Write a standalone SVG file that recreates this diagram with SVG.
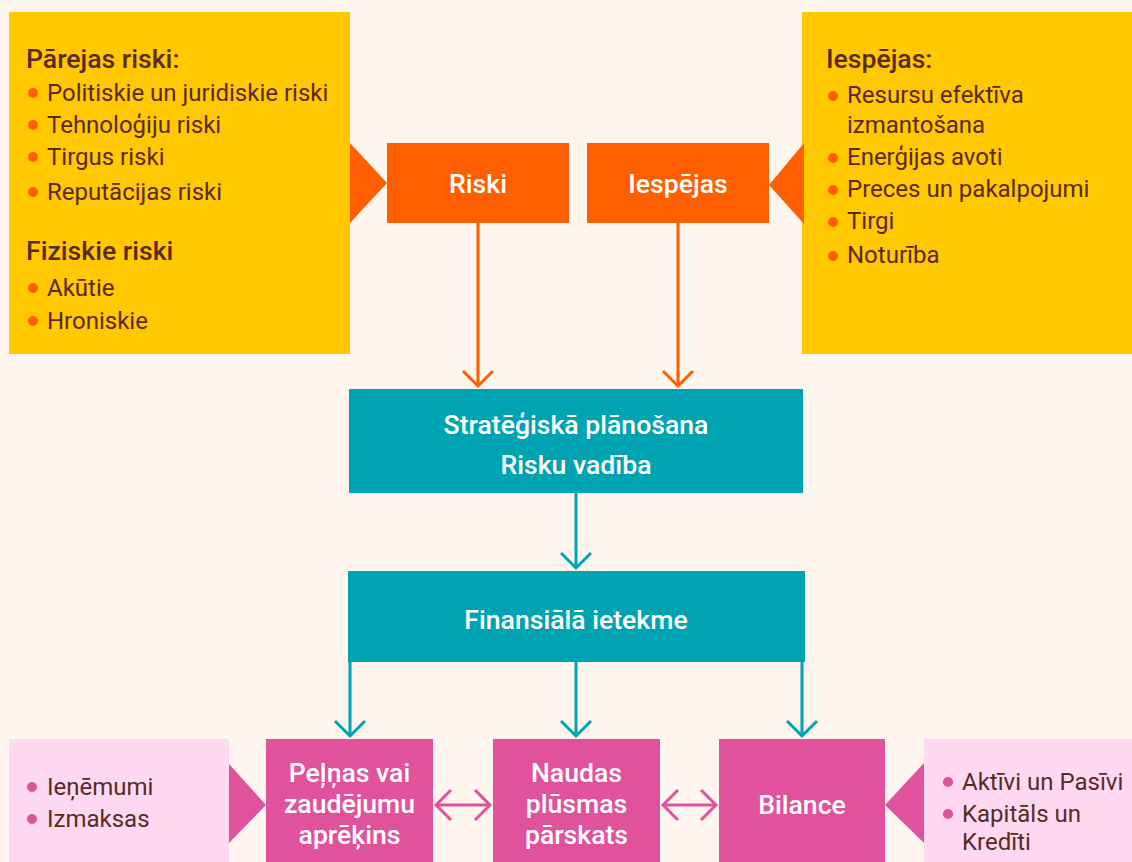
<svg xmlns="http://www.w3.org/2000/svg" width="1132" height="862" viewBox="0 0 1132 862">
<style>
.t{font-family:Roboto,"Liberation Sans",sans-serif;font-size:24px;fill:#5B2A1F}
.h{font-family:Roboto,"Liberation Sans",sans-serif;font-size:26.6px;font-weight:500;fill:#5B2A1F}
.w{font-family:Roboto,"Liberation Sans",sans-serif;font-size:26.6px;font-weight:500;fill:#FFFFFF;text-anchor:middle}
.ob{fill:#FF5F00}
.pb{fill:#E0529C}
.lo{stroke:#FF5F00;stroke-width:3;fill:none}
.lt{stroke:#00A3B1;stroke-width:3;fill:none}
.lp{stroke:#E0529C;stroke-width:3;fill:none}
</style>
<defs>
<marker id="ao" viewBox="-20 -20 40 40" refX="0" refY="0" markerWidth="40" markerHeight="40" markerUnits="userSpaceOnUse" orient="auto"><path d="M-15,-15 L0,0 L-15,15" fill="none" stroke="#FF5F00" stroke-width="3"/></marker>
<marker id="at" viewBox="-20 -20 40 40" refX="0" refY="0" markerWidth="40" markerHeight="40" markerUnits="userSpaceOnUse" orient="auto"><path d="M-15,-15 L0,0 L-15,15" fill="none" stroke="#00A3B1" stroke-width="3"/></marker>
<marker id="ap" viewBox="-20 -20 40 40" refX="0" refY="0" markerWidth="40" markerHeight="40" markerUnits="userSpaceOnUse" orient="auto-start-reverse"><path d="M-15,-15 L0,0 L-15,15" fill="none" stroke="#E0529C" stroke-width="3"/></marker>
</defs>
<rect width="1132" height="862" fill="#FEF6EE"/>

<g id="transition-risks">
<rect x="9" y="12" width="341" height="342" fill="#FFC800"/>
<polygon points="350,143 387,183 350,223" fill="#FF5F00"/>
<text class="h" x="26" y="68">Pārejas riski:</text>
<circle class="ob" cx="33" cy="93" r="5"/><text class="t" x="47" y="101">Politiskie un juridiskie riski</text>
<circle class="ob" cx="33" cy="125" r="5"/><text class="t" x="47" y="133">Tehnoloģiju riski</text>
<circle class="ob" cx="33" cy="157" r="5"/><text class="t" x="47" y="165">Tirgus riski</text>
<circle class="ob" cx="33" cy="192" r="5"/><text class="t" x="47" y="200">Reputācijas riski</text>
<text class="h" x="26" y="260">Fiziskie riski</text>
<circle class="ob" cx="33" cy="288" r="5"/><text class="t" x="47" y="296">Akūtie</text>
<circle class="ob" cx="33" cy="321" r="5"/><text class="t" x="47" y="329">Hroniskie</text>
</g>

<g id="opportunities-list">
<rect x="802" y="12" width="330" height="342" fill="#FFC800"/>
<polygon points="804,143 769,185 804,224" fill="#FF5F00"/>
<text class="h" x="826" y="68">Iespējas:</text>
<circle class="ob" cx="833" cy="96" r="5"/><text class="t" x="847" y="103">Resursu efektīva</text>
<text class="t" x="847" y="133">izmantošana</text>
<circle class="ob" cx="833" cy="158" r="5"/><text class="t" x="847" y="165">Enerģijas avoti</text>
<circle class="ob" cx="833" cy="190" r="5"/><text class="t" x="847" y="197">Preces un pakalpojumi</text>
<circle class="ob" cx="833" cy="222" r="5"/><text class="t" x="847" y="229">Tirgi</text>
<circle class="ob" cx="833" cy="256" r="5"/><text class="t" x="847" y="263">Noturība</text>
</g>

<g id="riski">
<rect x="387" y="143" width="182" height="80" fill="#FF5F00"/>
<text class="w" x="478" y="193">Riski</text>
</g>

<g id="iespejas">
<rect x="587" y="143" width="182" height="80" fill="#FF5F00"/>
<text class="w" x="678" y="193">Iespējas</text>
</g>

<g id="strategic">
<rect x="349" y="389" width="454" height="104" fill="#00A3B1"/>
<text class="w" x="576" y="434">Stratēģiskā plānošana</text>
<text class="w" x="576" y="474">Risku vadība</text>
</g>

<g id="financial">
<rect x="348" y="571" width="457" height="91" fill="#00A3B1"/>
<text class="w" x="576" y="629">Finansiālā ietekme</text>
</g>

<g id="income-list">
<rect x="9" y="739" width="220" height="123" fill="#FFD8F2"/>
<polygon points="229,764 266,805 229,843" fill="#E0529C"/>
<circle class="pb" cx="32" cy="787" r="5"/><text class="t" x="47" y="795">Ieņēmumi</text>
<circle class="pb" cx="32" cy="819" r="5"/><text class="t" x="47" y="827">Izmaksas</text>
</g>

<g id="pnl">
<rect x="266" y="739" width="167" height="123" fill="#E0529C"/>
<text class="w" x="349.5" y="782">Peļņas vai</text>
<text class="w" x="349.5" y="813">zaudējumu</text>
<text class="w" x="349.5" y="844">aprēķins</text>
</g>

<g id="cashflow">
<rect x="493" y="739" width="167" height="123" fill="#E0529C"/>
<text class="w" x="576.5" y="782">Naudas</text>
<text class="w" x="576.5" y="813">plūsmas</text>
<text class="w" x="576.5" y="844">pārskats</text>
</g>

<g id="balance">
<rect x="719" y="739" width="166" height="123" fill="#E0529C"/>
<text class="w" x="802" y="814">Bilance</text>
</g>

<g id="balance-list">
<rect x="924" y="739" width="208" height="123" fill="#FFD8F2"/>
<polygon points="924,763 885,805 924,843" fill="#E0529C"/>
<circle class="pb" cx="948" cy="782" r="5"/><text class="t" x="962" y="790">Aktīvi un Pasīvi</text>
<circle class="pb" cx="948" cy="814" r="5"/><text class="t" x="962" y="822">Kapitāls un</text>
<text class="t" x="962" y="850">Kredīti</text>
</g>

<g id="connectors">
<line class="lo" x1="478" y1="223" x2="478" y2="386" marker-end="url(#ao)"/>
<line class="lo" x1="678" y1="223" x2="678" y2="386" marker-end="url(#ao)"/>
<line class="lt" x1="576" y1="493" x2="576" y2="568" marker-end="url(#at)"/>
<line class="lt" x1="350" y1="662" x2="350" y2="736" marker-end="url(#at)"/>
<line class="lt" x1="576" y1="662" x2="576" y2="736" marker-end="url(#at)"/>
<line class="lt" x1="802" y1="662" x2="802" y2="736" marker-end="url(#at)"/>
<line class="lp" x1="436" y1="805" x2="490" y2="805" marker-start="url(#ap)" marker-end="url(#ap)"/>
<line class="lp" x1="663" y1="805" x2="716" y2="805" marker-start="url(#ap)" marker-end="url(#ap)"/>
</g>
</svg>
